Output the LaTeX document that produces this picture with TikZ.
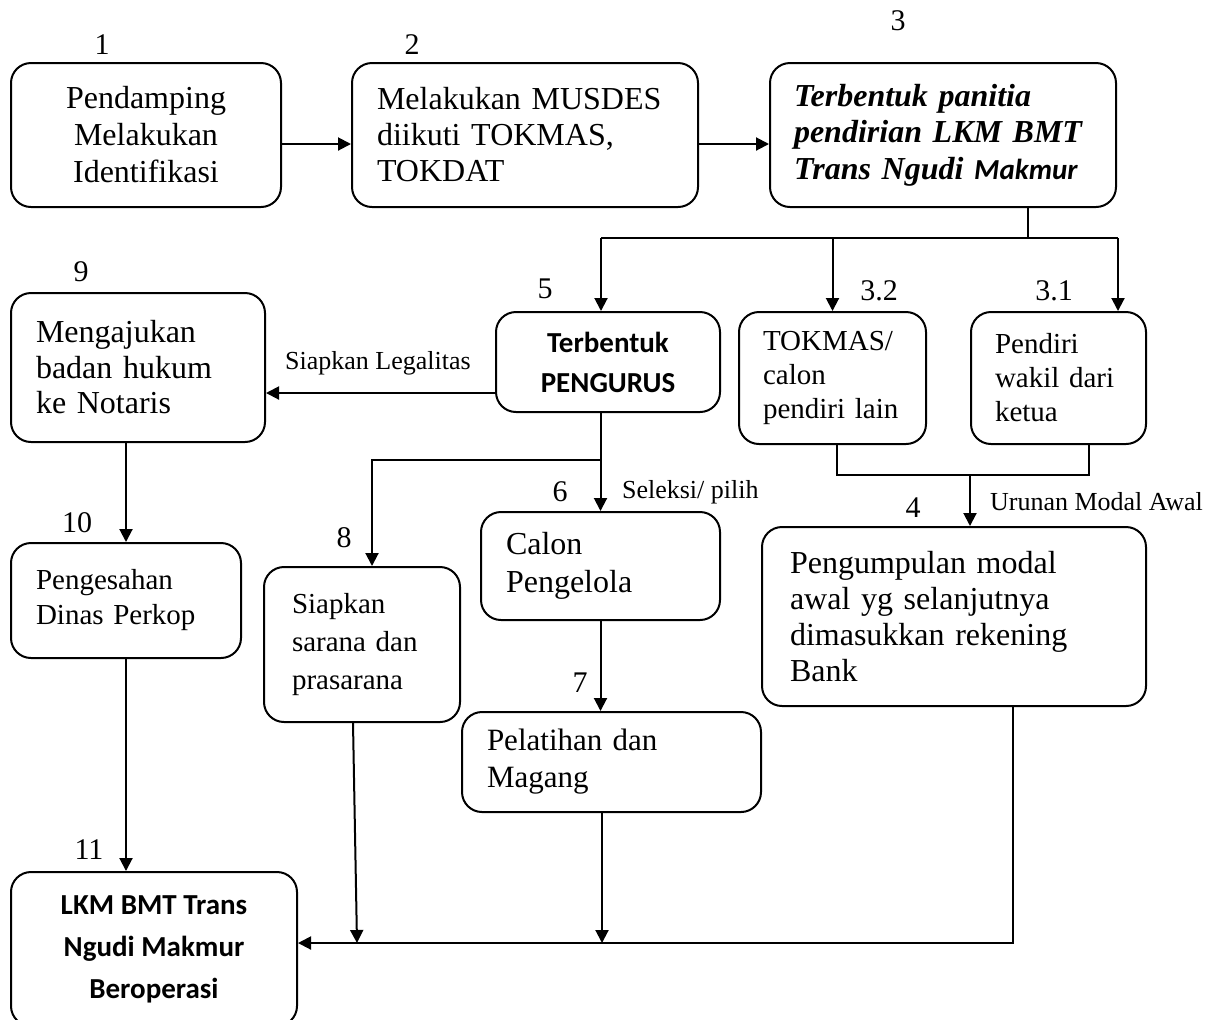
\documentclass[tikz,border=0pt]{standalone}
\usepackage{fontspec}
\setmainfont{Liberation Serif}
\newfontfamily\calibri{Carlito}
\usetikzlibrary{arrows.meta}

\begin{document}
\begin{tikzpicture}[x={(0.5pt,0pt)}, y={(0pt,-0.5pt)},
	every node/.style={font=\fontsize{15}{18}\selectfont},
	box/.style={draw, line width=1pt, rounded corners=10pt, inner ysep=0pt},
	lbox/.style={box, align=left, inner xsep=12.5pt},
	arr/.style={line width=1pt, -{Triangle[length=6.5pt,width=6.5pt]}},
	lbl/.style={font=\fontsize{13}{15}\selectfont}]
	\useasboundingbox (0,0) rectangle (1224,1019);
	% step numbers
	\node (n1) at (102,45) {1};
	\node (n2) at (412,45) {2};
	\node (n3) at (898,21) {3};
	\node (n5) at (545,289) {5};
	\node (n32) at (879,291) {3.2};
	\node (n31) at (1054,291) {3.1};
	\node (n9) at (81,272) {9};
	\node (n6) at (560,492) {6};
	\node (n8) at (344,538) {8};
	\node (n10) at (77,523) {10};
	\node (n4) at (913,508) {4};
	\node (n7) at (580,683) {7};
	\node (n11) at (89,850) {11};
	% boxes
	\node[box, align=center, minimum width=135pt, minimum height=72pt, font=\fontsize{16}{18.5}\selectfont] (b1) at (146,135) {Pendamping\\Melakukan\\Identifikasi};
	\node[lbox, text width=148pt, minimum height=72pt, font=\fontsize{16}{18}\selectfont] (b2) at (525,135) {Melakukan MUSDES\\diikuti TOKMAS,\\TOKDAT};
	\node[lbox, inner xsep=12pt, text width=149pt, minimum height=72pt, font=\fontsize{16}{18.25}\selectfont] (b3) at (943,135) {\bfseries\itshape Terbentuk panitia\\pendirian LKM BMT\\Trans Ngudi {\calibri\fontsize{14.5}{18}\selectfont Makmur}};
	\node[box, align=center, minimum width=112pt, minimum height=50pt, font=\calibri\bfseries\fontsize{14.5}{20}\selectfont] (b5) at (608,362) {Terbentuk\\PENGURUS};
	\node[lbox, inner xsep=12pt, text width=69.5pt, minimum height=66pt, font=\fontsize{14.5}{17}\selectfont] (b32) at (832.5,378) {TOKMAS/\\calon\\pendiri lain};
	\node[lbox, inner xsep=12pt, text width=63.5pt, minimum height=66pt, font=\fontsize{14.5}{17}\selectfont] (b31) at (1058.5,378) {Pendiri\\wakil dari\\ketua};
	\node[lbox, text width=102pt, minimum height=74.5pt, font=\fontsize{16}{17.75}\selectfont] (b9) at (138,367.5) {Mengajukan\\badan hukum\\ke Notaris};
	\node[lbox, text width=90pt, minimum height=57.5pt, font=\fontsize{14.5}{17.5}\selectfont] (b10) at (126,600.5) {Pengesahan\\Dinas Perkop\\[6pt]};
	\node[lbox, text width=94.5pt, minimum height=54pt, font=\fontsize{16}{19}\selectfont] (b6) at (600.5,566) {Calon\\Pengelola};
	\node[lbox, inner xsep=14pt, text width=70pt, minimum height=77.5pt, font=\fontsize{14.5}{19}\selectfont] (b8) at (362,644.5) {Siapkan\\sarana dan\\prasarana};
	\node[lbox, inner xsep=14pt, text width=164pt, minimum height=89.5pt, font=\fontsize{16}{18}\selectfont] (b4) at (954,616.5) {Pengumpulan modal\\awal yg selanjutnya\\dimasukkan rekening\\Bank};
	\node[lbox, text width=124.5pt, minimum height=50pt, font=\fontsize{15.5}{18.5}\selectfont] (b7) at (611.5,762) {Pelatihan dan\\Magang};
	\node[box, align=center, minimum width=143pt, minimum height=77pt, font=\calibri\bfseries\fontsize{14.5}{21}\selectfont] (b11) at (154,949) {LKM BMT Trans\\Ngudi Makmur\\Beroperasi};
	% edge labels
	\node[lbl] (lg) at (378,363) {Siapkan Legalitas};
	\node[lbl, anchor=west] (sel) at (615,492) {Seleksi/ pilih};
	\node[lbl, anchor=west] (uru) at (983,502) {Urunan Modal Awal};
	% junction points
	\coordinate (s3) at (1028,238);
	\coordinate (jl) at (601,238);
	\coordinate (jr) at (1118,238);
	\coordinate (s5) at (601,460);
	\coordinate (c8) at (372,460);
	\coordinate (m32) at (837,475);
	\coordinate (m31) at (1089,475);
	\coordinate (m4) at (970,475);
	\coordinate (j8) at (357,943);
	\coordinate (j7) at (602,943);
	\coordinate (jb) at (1013,943);
	% connectors
	\draw[arr] ([yshift=-4.5pt]b1.east) -- ([yshift=-4.5pt]b1.east -| b2.west);
	\draw[arr] ([yshift=-4.5pt]b2.east) -- ([yshift=-4.5pt]b2.east -| b3.west);
	\draw[line width=1pt] (b3.south -| s3) -- (s3);
	\draw[line width=1pt] (jl) -- (jr);
	\draw[arr] (jl) -- (jl |- b5.north);
	\draw[arr] (b32.north |- jl) -- (b32.north);
	\draw[arr] (jr) -- (jr |- b31.north);
	\draw[arr] ([yshift=-15.5pt]b5.west) -- ([yshift=-15.5pt]b5.west -| b9.east);
	\draw[arr] (b9.south -| b10.north) -- (b10.north);
	\draw[arr] (b10.south) -- (b10.south |- b11.north);
	\draw[arr] (b5.south -| b6.north) -- (b6.north);
	\draw[arr] (s5) -- (c8) -- (c8 |- b8.north);
	\draw[arr] (b6.south) -- (b6.south |- b7.north);
	\draw[line width=1pt] (b32.south -| m32) -- (m32) -- (m31) -- (b31.south -| m31);
	\draw[arr] (m4) -- (m4 |- b4.north);
	\draw[arr] (b4.south -| jb) -- (jb) -- (jb -| b11.east);
	\draw[arr] (b7.south -| j7) -- (j7);
	\draw[arr] ([xshift=-4.5pt]b8.south) -- (j8);
\end{tikzpicture}
\end{document}
